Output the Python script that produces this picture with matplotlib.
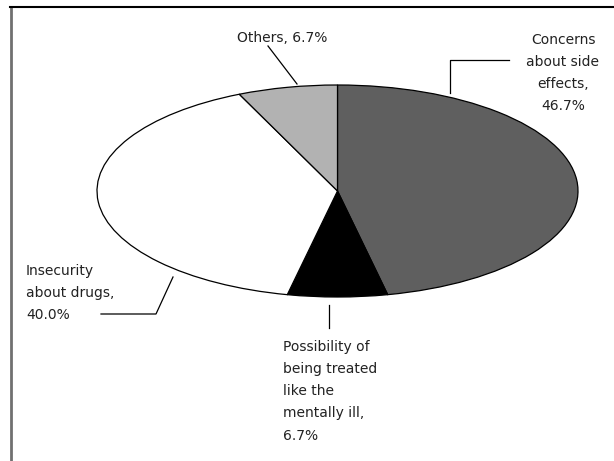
import matplotlib
matplotlib.use("Agg")
import matplotlib.pyplot as plt

# data
labels = ["Concerns\nabout side\neffects,\n46.7%",
          "Possibility of\nbeing treated\nlike the\nmentally ill,\n6.7%",
          "Insecurity\nabout drugs,\n40.0%",
          "Others, 6.7%"]
shares = [46.7, 6.7, 40.0, 6.7]
colors = ["#5f5f5f", "#000000", "#ffffff", "#b2b2b2"]

W, H = 614, 461
fig = plt.figure(figsize=(W / 100, H / 100), dpi=100)

# pie squashed into an ellipse (left 97, right 578, top 85, bottom 297 px)
ax = fig.add_axes([97 / W, (H - 297) / H, 481 / W, 212 / H])
wedges, _ = ax.pie(shares, colors=colors, startangle=90, counterclock=False,
                   wedgeprops=dict(edgecolor="black", linewidth=0.9))
for w in wedges:
    w.set_clip_on(False)
ax.set_aspect("auto")
ax.set_xlim(-1, 1)
ax.set_ylim(-1, 1)
ax.axis("off")

# overlay in pixel coords for frame, labels and leader lines
ov = fig.add_axes([0, 0, 1, 1], zorder=3)
ov.set_xlim(0, W)
ov.set_ylim(H, 0)
ov.axis("off")
ov.patch.set_alpha(0)

ov.plot([11, 11], [7, H], color="#707070", lw=2)
ov.plot([10, W], [7, 7], color="black", lw=1.5)

txt = dict(fontsize=10, color="#222222", family="DejaVu Sans", linespacing=1.75)
ov.text(563, 73, labels[0], ha="center", va="center", **txt)
ov.plot([450, 450, 509], [93, 60, 60], color="black", lw=0.9)

ov.text(283, 391, labels[1], ha="left", va="center", **txt)
ov.plot([329, 329], [305, 328], color="black", lw=0.9)

ov.text(26, 293, labels[2], ha="left", va="center", **txt)
ov.plot([101, 156, 173], [314, 314, 277], color="black", lw=0.9)

ov.text(282, 38, labels[3], ha="center", va="center", **txt)
ov.plot([268, 297], [46, 84], color="black", lw=0.9)

fig.savefig("out.png", dpi=100)
